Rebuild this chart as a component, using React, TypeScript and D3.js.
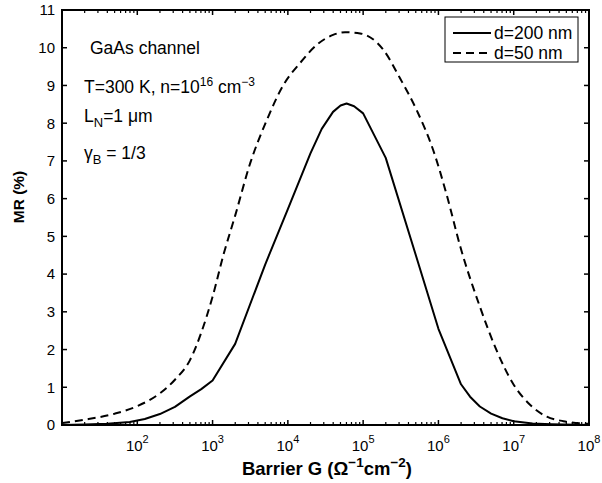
import React from "react";
import * as d3 from "d3";

// Data (exponent of G, MR in %)
const logG200 = [1.0, 1.3, 1.6, 1.9, 2.1, 2.3, 2.5, 2.7, 2.85, 3.0, 3.3, 3.7, 4.0, 4.3, 4.45, 4.6, 4.7, 4.78, 4.88, 5.0, 5.3, 5.7, 6.0, 6.3, 6.42, 6.55, 6.7, 6.85, 7.0, 7.25, 7.5, 8.0];
const mr200 = [0.0, 0.01, 0.03, 0.08, 0.16, 0.29, 0.48, 0.76, 0.95, 1.18, 2.15, 4.26, 5.72, 7.2, 7.85, 8.3, 8.47, 8.52, 8.45, 8.26, 7.08, 4.5, 2.55, 1.08, 0.75, 0.49, 0.3, 0.18, 0.1, 0.04, 0.02, 0.0];

const logG50 = [1.0, 1.3, 1.7, 2.0, 2.3, 2.5, 2.7, 2.85, 3.0, 3.15, 3.3, 3.5, 3.72, 3.94, 4.16, 4.38, 4.6, 4.76, 4.96, 5.27, 5.49, 5.71, 5.93, 6.11, 6.29, 6.55, 6.77, 6.99, 7.22, 7.44, 7.66, 8.0];
const mr50 = [0.05, 0.14, 0.3, 0.5, 0.84, 1.2, 1.72, 2.45, 3.4, 4.55, 5.55, 6.94, 8.08, 9.01, 9.59, 10.07, 10.34, 10.41, 10.38, 9.94, 9.19, 8.35, 7.29, 6.1, 4.73, 3.14, 1.99, 1.1, 0.53, 0.22, 0.1, 0.03];

const yTicks = [0, 1, 2, 3, 4, 5, 6, 7, 8, 9, 10, 11];
const xTickExps = [2, 3, 4, 5, 6, 7, 8];
const legendLabels = ["d=200 nm", "d=50 nm"];

const W = 602, H = 483;
const L = 62, R = 589, T = 10, B = 425;
const FONT = "'Liberation Sans', Arial, Helvetica, sans-serif";

export default function App() {
  const x = d3.scaleLog().domain([1e1, 1e8]).range([L, R]);
  const y = d3.scaleLinear().domain([0, 11]).range([B, T]);
  const line200 = d3.line<[number, number]>().x(d => x(d[0])).y(d => y(d[1]));
  const line50 = d3.line<[number, number]>().x(d => x(d[0])).y(d => y(d[1])).curve(d3.curveMonotoneX);

  const s200: [number, number][] = logG200.map((e, i) => [Math.pow(10, e), mr200[i]]);
  const s50: [number, number][] = logG50.map((e, i) => [Math.pow(10, e), mr50[i]]);

  const minor: number[] = [];
  for (let dec = 1; dec < 8; dec++) for (let k = 2; k <= 9; k++) minor.push(k * Math.pow(10, dec));
  const major = [1, 2, 3, 4, 5, 6, 7, 8].map(e => Math.pow(10, e));

  return (
    <svg width={W} height={H} style={{ position: "absolute", left: 0, top: 0, background: "#fff" }} fontFamily={FONT}>
      <rect x={0} y={0} width={W} height={H} fill="#fff" />
      {/* curves */}
      <path d={line50(s50) || ""} fill="none" stroke="#000" strokeWidth={2} strokeDasharray="8,5" />
      <path d={line200(s200) || ""} fill="none" stroke="#000" strokeWidth={2} strokeLinejoin="round" />

      {/* frame */}
      <rect x={L} y={T} width={R - L} height={B - T} fill="none" stroke="#000" strokeWidth={2} />

      {/* y ticks */}
      {yTicks.map(t => (
        <g key={"y" + t}>
          <line x1={L} x2={L + 5} y1={y(t)} y2={y(t)} stroke="#000" strokeWidth={1.5} />
          <line x1={R} x2={R - 5} y1={y(t)} y2={y(t)} stroke="#000" strokeWidth={1.5} />
          <text x={L - 7} y={y(t)} dy="0.36em" textAnchor="end" fontSize={15}>{t}</text>
        </g>
      ))}

      {/* x ticks */}
      {major.map((v, i) => (
        <g key={"xm" + i}>
          <line x1={x(v)} x2={x(v)} y1={B} y2={B - 5} stroke="#000" strokeWidth={1.5} />
          <line x1={x(v)} x2={x(v)} y1={T} y2={T + 5} stroke="#000" strokeWidth={1.5} />
        </g>
      ))}
      {minor.map((v, i) => (
        <g key={"xn" + i}>
          <line x1={x(v)} x2={x(v)} y1={B} y2={B - 3} stroke="#000" strokeWidth={1.2} />
          <line x1={x(v)} x2={x(v)} y1={T} y2={T + 3} stroke="#000" strokeWidth={1.2} />
        </g>
      ))}
      {xTickExps.map(e => (
        <text key={"xl" + e} x={x(Math.pow(10, e))} y={451} textAnchor="middle" fontSize={15}>
          <tspan>10</tspan>
          <tspan dy={-8} fontSize={11}>{e}</tspan>
        </text>
      ))}

      {/* axis labels */}
      <text x={327} y={475} textAnchor="middle" fontSize={18.5} fontWeight="bold">
        <tspan>Barrier G (Ω</tspan>
        <tspan dy={-8} fontSize={13.5}>−1</tspan>
        <tspan dy={8}>cm</tspan>
        <tspan dy={-8} fontSize={13.5}>−2</tspan>
        <tspan dy={8}>)</tspan>
      </text>
      <text transform="translate(24,197) rotate(-90)" textAnchor="middle" fontSize={15.5} fontWeight="bold">MR (%)</text>

      {/* annotations */}
      <text x={90} y={54} fontSize={17.5}>GaAs channel</text>
      <text x={84} y={93} fontSize={17.5}>
        <tspan>T=300 K, n=10</tspan>
        <tspan dy={-7} fontSize={12}>16</tspan>
        <tspan dy={7}> cm</tspan>
        <tspan dy={-7} fontSize={12}>−3</tspan>
      </text>
      <text x={84} y={122} fontSize={17.5}>
        <tspan>L</tspan>
        <tspan dy={5} fontSize={13}>N</tspan>
        <tspan dy={-5}>=1 μm</tspan>
      </text>
      <text x={84} y={159} fontSize={17.5}>
        <tspan>γ</tspan>
        <tspan dy={5} fontSize={13}>B</tspan>
        <tspan dy={-5}> = 1/3</tspan>
      </text>

      {/* legend */}
      <rect x={445} y={17} width={133} height={45} fill="#fff" stroke="#000" strokeWidth={1} />
      <line x1={453} x2={491} y1={33} y2={33} stroke="#000" strokeWidth={2} />
      <line x1={453} x2={491} y1={53} y2={53} stroke="#000" strokeWidth={2} strokeDasharray="8,5" />
      <text x={494} y={33} dy="0.36em" fontSize={17.5}>{legendLabels[0]}</text>
      <text x={494} y={53} dy="0.36em" fontSize={17.5}>{legendLabels[1]}</text>
    </svg>
  );
}
